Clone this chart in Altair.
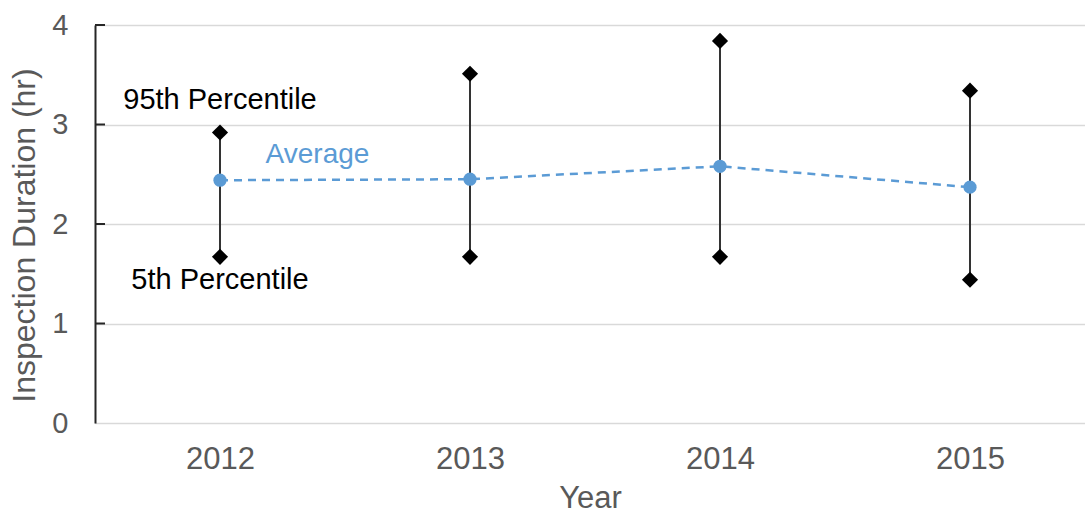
import altair as alt
import pandas as pd

# Inspection duration statistics per year (hours)
years = [2012, 2013, 2014, 2015]
p95 = [2.92, 3.51, 3.84, 3.34]
avg = [2.44, 2.45, 2.58, 2.37]
p5 = [1.67, 1.67, 1.67, 1.44]
y_ticks = [0, 1, 2, 3, 4]

df = pd.DataFrame({"year": years, "p95": p95, "avg": avg, "p5": p5})
ticks_df = pd.DataFrame({"v": y_ticks[1:]})

FONT = "Liberation Sans"
GRAY_TEXT = "#595959"
BLUE = "#5B9BD5"

x_scale = alt.Scale(domain=[2011.5, 2015.46], nice=False, zero=False)
y_scale = alt.Scale(domain=[0, 4], nice=False)

x_enc = alt.X(
    "year:Q",
    scale=x_scale,
    axis=alt.Axis(
        title="Year",
        values=years,
        format="d",
        grid=False,
        domain=False,
        ticks=False,
        labelFontSize=31,
        labelColor=GRAY_TEXT,
        labelFont=FONT,
        labelPadding=21,
        titleFontSize=31,
        titleColor=GRAY_TEXT,
        titleFont=FONT,
        titleFontWeight="normal",
        titlePadding=9,
    ),
)

y_axis = alt.Axis(
    title="Inspection Duration (hr)",
    values=y_ticks,
    format="d",
    grid=True,
    gridColor="#d9d9d9",
    gridWidth=1.5,
    domain=True,
    domainColor="#262626",
    domainWidth=2,
    ticks=False,
    labelFontSize=29,
    labelColor=GRAY_TEXT,
    labelFont=FONT,
    labelPadding=27,
    titleFontSize=32,
    titleColor=GRAY_TEXT,
    titleFont=FONT,
    titleFontWeight="normal",
    titlePadding=10,
    titleY=210,
)

base = alt.Chart(df)

# Range whiskers from 5th to 95th percentile
whiskers = base.mark_rule(color="#333333", strokeWidth=2).encode(
    x=x_enc,
    y=alt.Y("p5:Q", scale=y_scale, axis=y_axis),
    y2="p95:Q",
)

hi = base.mark_point(shape="diamond", filled=True, color="black", size=260, opacity=1).encode(
    x="year:Q", y="p95:Q"
)
lo = base.mark_point(shape="diamond", filled=True, color="black", size=260, opacity=1).encode(
    x="year:Q", y="p5:Q"
)

avg_line = base.mark_line(color=BLUE, strokeWidth=2.5, strokeDash=[8, 6]).encode(
    x="year:Q", y="avg:Q"
)
avg_pts = base.mark_circle(color=BLUE, size=175, opacity=1).encode(
    x="year:Q", y="avg:Q"
)

# Short inward tick marks on the y axis
inner_ticks = alt.Chart(ticks_df).mark_rule(color="#262626", strokeWidth=2).encode(
    x=alt.value(0), x2=alt.value(10), y=alt.Y("v:Q", scale=y_scale)
)

labels_df = pd.DataFrame({
    "x": [2012, 2012.39, 2012],
    "y": [3.25, 2.69, 1.44],
    "t": ["95th Percentile", "Average", "5th Percentile"],
    "c": ["black", BLUE, "black"],
    "s": [29, 28, 29],
})
labels = alt.Chart(labels_df).mark_text(font=FONT, align="center", baseline="middle").encode(
    x="x:Q", y="y:Q", text="t:N",
    color=alt.Color("c:N", scale=None),
    size=alt.Size("s:Q", scale=None),
)

chart = alt.layer(whiskers, avg_line, avg_pts, hi, lo, inner_ticks, labels).properties(
    width=990,
    height=398,
    padding={"left": 95, "top": 25, "right": 0, "bottom": 94},
    autosize=alt.AutoSizeParams(type="none"),
).configure_view(stroke=None).configure(background="white")

chart.save("out.html", embed_options={"renderer": "svg", "actions": False})
